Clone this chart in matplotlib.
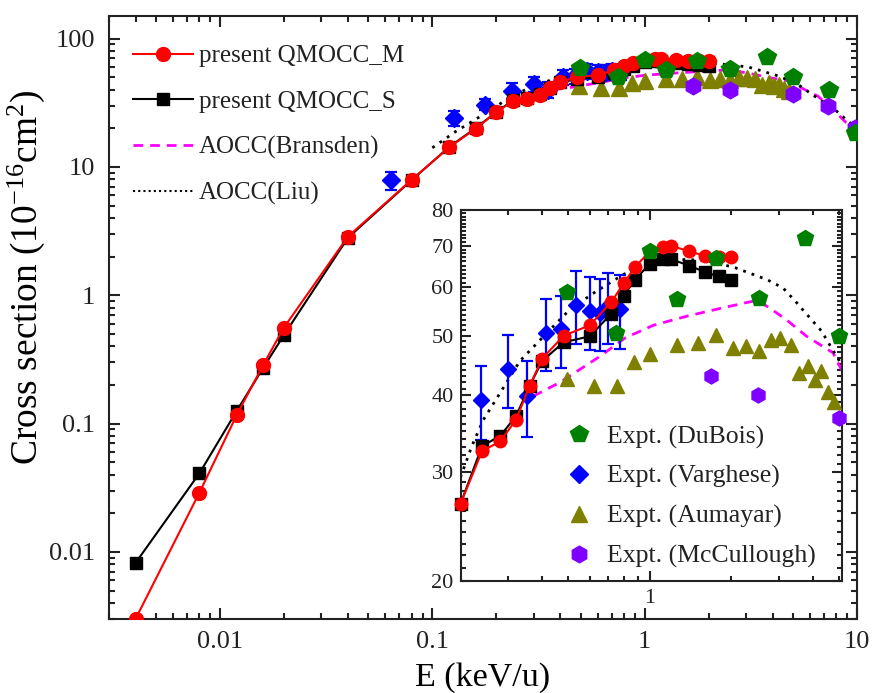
import numpy as np
import matplotlib
matplotlib.use('Agg')
import matplotlib.pyplot as plt
from matplotlib.ticker import LogLocator, NullFormatter, FixedLocator
from matplotlib.lines import Line2D

plt.rcParams['font.family'] = ['Liberation Serif', 'DejaVu Serif']
plt.rcParams['mathtext.fontset'] = 'custom'
plt.rcParams['mathtext.rm'] = 'Liberation Serif'
plt.rcParams['mathtext.it'] = 'Liberation Serif:italic'
plt.rcParams['mathtext.default'] = 'regular'

# ---------------- data ----------------
E_qm = [0.004, 0.008, 0.012, 0.016, 0.02, 0.04, 0.08, 0.12, 0.16, 0.2, 0.24, 0.28,
        0.32, 0.36, 0.4, 0.48, 0.6, 0.72, 0.8, 0.88, 1.0, 1.12, 1.2, 1.4, 1.6, 1.8, 2.0]
sig_M = [0.0030, 0.029, 0.117, 0.288, 0.56, 2.86, 7.96, 14.2, 19.9, 26.7, 32.5, 33.7,
         36.5, 41.5, 45.9, 50.0, 52.0, 56.7, 60.8, 64.6, 68.6, 69.8, 69.9, 68.6, 67.3, 67.0, 67.1]
sig_S = [0.0082, 0.041, 0.126, 0.273, 0.49, 2.80, 7.9, 14.3, 20.1, 26.7, 33.1, 34.4,
         37.0, 41.5, 45.5, 48.8, 49.9, 54.3, 58.1, 61.6, 65.5, 66.5, 66.5, 65.0, 63.4, 62.4, 61.7]

E_bra = [0.371, 0.465, 0.654, 0.81, 1.03, 1.37, 1.76, 2.27, 2.5, 2.81, 3.19, 3.79,
         4.75, 5.68, 6.56, 8.14, 9.07, 10.0]
sig_bra = [39.9, 42.0, 46.3, 49.6, 52.0, 53.8, 55.2, 56.6, 57.1, 55.2, 53.1, 49.9,
           46.9, 40.0, 35.5, 25.6, 21.4, 19.3]

E_liu = [0.1, 0.129, 0.2, 0.22, 0.2425, 0.28, 0.331, 0.416, 0.507, 0.636, 0.8, 1.0,
         1.3, 1.6, 2.06, 2.70, 3.10, 3.48, 3.95, 4.30, 4.68, 5.28, 6.33, 7.86, 9.07, 10.0]
sig_liu = [14.1, 18.9, 29.5, 33.1, 36.5, 40.4, 45.5, 50.5, 55.2, 59.1, 62.9, 65.8,
           66.5, 66.3, 64.5, 61.7, 59.8, 56.6, 53.1, 50.9, 47.8, 43.8, 35.5, 28.0, 22.7, 20.0]

E_dub = [0.494, 0.75, 1.0, 1.254, 1.76, 2.53, 3.75, 5.0, 7.36, 9.8]
sig_dub = [58.8, 50.6, 68.7, 57.3, 66.9, 57.5, 72.1, 50.0, 39.5, 18.4]

E_var = [0.064, 0.127, 0.177, 0.237, 0.30, 0.352, 0.413, 0.468, 0.533, 0.60, 0.654, 0.70, 0.775]
sig_var = [7.9, 24.1, 30.6, 39.3, 44.2, 39.9, 50.6, 51.2, 56.0, 54.8, 54.5, 55.9, 55.2]
err_var = [1.3, 3.4, 3.0, 5.4, 6.0, 5.6, 6.8, 6.9, 7.6, 7.4, 7.3, 7.4, 7.6]

E_aum = [0.493, 0.621, 0.753, 0.873, 1.0, 1.254, 1.50, 1.76, 2.02, 2.27, 2.53, 2.79,
         3.03, 3.31, 3.56, 3.84, 4.06, 4.30, 4.55, 4.78]
sig_aum = [42.5, 41.4, 41.4, 45.3, 46.7, 48.3, 48.6, 50.2, 47.8, 48.2, 47.2, 49.2,
           49.6, 48.3, 43.5, 44.7, 42.4, 43.8, 40.6, 39.0]

E_mcc = [1.68, 2.51, 5.0, 7.3, 9.8]
sig_mcc = [43.0, 40.1, 36.8, 29.7, 20.1]

# ---------------- styles ----------------
RED = '#FF0000'
MAG = '#FF00FF'
GRN = '#008000'
BLU = '#0000FF'
OLV = '#808000'
PUR = '#8000FF'

fig = plt.figure(figsize=(8.72, 6.93), dpi=100)
W, H = 872.0, 693.0
ax = fig.add_axes([109 / W, 1 - 619 / H, (857 - 109) / W, (619 - 16) / H])


def style_axis(a, lw=1.5, lab=19):
    for s in a.spines.values():
        s.set_linewidth(lw)
        s.set_color('#222222')
    a.tick_params(which='both', direction='in', top=True, right=True,
                  width=lw, colors='#222222', labelcolor='#222222')
    a.tick_params(which='major', length=8, labelsize=lab)
    a.tick_params(which='minor', length=4.5)


def draw_all(a, inset=False):
    if inset:
        lo, hi = 0.199, 5.2
        def sel(E, *ys):
            idx = [i for i, e in enumerate(E) if lo <= e <= hi]
            return [[E[i] for i in idx]] + [[y[i] for i in idx] for y in ys]
    else:
        def sel(E, *ys):
            return [list(E)] + [list(y) for y in ys]
    ms_scale = 0.9 if inset else 1.0
    clip = not inset
    # theory curves
    a.plot(E_bra, sig_bra, color=MAG, ls=(0, (3.5, 2.5)), lw=2.0, zorder=2)
    a.plot(E_liu, sig_liu, color='black', ls=(0, (1, 2.2)), lw=2.0, zorder=2)
    # experiments
    x, y = sel(E_aum, sig_aum)
    a.plot(x, y, ls='none', marker='^', ms=11 * ms_scale, color=OLV, mec=OLV, zorder=3, clip_on=clip)
    x, y = sel(E_mcc, sig_mcc)
    a.plot(x, y, ls='none', marker='h', ms=12 * ms_scale, color=PUR, mec=PUR, zorder=3, clip_on=clip)
    x, y, e = sel(E_var, sig_var, err_var)
    a.errorbar(x, y, yerr=e, fmt='D', ms=9 * ms_scale, color=BLU, mec=BLU, ecolor=BLU,
               elinewidth=1.6, capsize=4, capthick=1.6, zorder=3, clip_on=clip)
    # present results
    x, yM, yS = sel(E_qm, sig_M, sig_S)
    a.plot(x, yS, color='black', lw=1.5, marker='s', ms=9 * ms_scale, mec='black', zorder=4, clip_on=clip)
    a.plot(x, yM, color=RED, lw=1.5, marker='o', ms=10 * ms_scale, mec=RED, zorder=5, clip_on=clip)
    x, y = sel(E_dub, sig_dub)
    a.plot(x, y, ls='none', marker='p', ms=13 * ms_scale, color=GRN, mec=GRN, zorder=6, clip_on=clip)


# ---------------- main axes ----------------
ax.set_xscale('log')
ax.set_yscale('log')
draw_all(ax)
ax.set_xlim(0.003, 10)
ax.set_ylim(0.003, 150)
style_axis(ax)
ax.set_xticks([0.01, 0.1, 1, 10])
ax.set_xticklabels(['0.01', '0.1', '1', '10'])
ax.set_yticks([0.01, 0.1, 1, 10, 100])
ax.set_yticklabels(['0.01', '0.1', '1', '10', '100'])
ax.xaxis.set_minor_locator(LogLocator(base=10, subs=np.arange(2, 10), numticks=20))
ax.yaxis.set_minor_locator(LogLocator(base=10, subs=np.arange(2, 10), numticks=20))
ax.xaxis.set_minor_formatter(NullFormatter())
ax.yaxis.set_minor_formatter(NullFormatter())
ax.tick_params(axis='x', which='major', pad=9)
ax.tick_params(axis='y', which='major', pad=10)
ax.set_xlabel('E (keV/u)', fontsize=24.5)
ax.xaxis.set_label_coords(0.5, (619 - 693) / 603.0)
ax.xaxis.label.set_va('bottom')
ax.set_ylabel('Cross section (10$^{-16}$cm$^{2}$)', fontsize=27)
ax.yaxis.set_label_coords(-0.083, 0.567)

h1 = Line2D([], [], color=RED, lw=1.5, marker='o', ms=10, mec=RED)
h2 = Line2D([], [], color='black', lw=1.5, marker='s', ms=9)
h3 = Line2D([], [], color=MAG, lw=2.0, ls=(0, (3.5, 2.5)))
h4 = Line2D([], [], color='black', lw=1.5, ls=(0, (1, 1.5)))
leg = ax.legend([h1, h2, h3, h4],
                ['present QMOCC_M', 'present QMOCC_S', 'AOCC(Bransden)', 'AOCC(Liu)'],
                loc='upper left', bbox_to_anchor=(-0.0067, 1.0), frameon=False, fontsize=18,
                handlelength=2.4, handletextpad=0.25, labelspacing=0.92, numpoints=1,
                borderaxespad=0.75)
for t in leg.get_texts():
    t.set_color('#222222')

# ---------------- inset ----------------
axi = fig.add_axes([460.6 / W, 1 - 581 / H, (842 - 460.6) / W, (581 - 210) / H])
axi.set_xscale('log')
axi.set_yscale('log')
draw_all(axi, inset=True)
axi.set_xlim(0.2, 5.12)
axi.set_ylim(20, 80)
style_axis(axi, lw=1.5, lab=16)
axi.tick_params(which='major', length=7)
axi.tick_params(which='minor', length=3.5)
axi.xaxis.set_major_locator(FixedLocator([1]))
axi.set_xticklabels(['1'])
axi.xaxis.set_minor_locator(FixedLocator([0.2, 0.3, 0.4, 0.5, 0.6, 0.7, 0.8, 0.9, 2, 3, 4, 5]))
axi.xaxis.set_minor_formatter(NullFormatter())
axi.yaxis.set_major_locator(FixedLocator([20, 30, 40, 50, 60, 70, 80]))
axi.set_yticklabels(['20', '30', '40', '50', '60', '70', '80'])
axi.yaxis.set_minor_locator(FixedLocator([v for v in range(21, 80) if v % 10 != 0]))
axi.yaxis.set_minor_formatter(NullFormatter())
axi.tick_params(axis='x', which='major', pad=6)
axi.tick_params(axis='y', which='major', pad=5)

g1 = Line2D([], [], ls='none', marker='p', ms=13, color=GRN)
g2 = Line2D([], [], ls='none', marker='D', ms=9, color=BLU)
g3 = Line2D([], [], ls='none', marker='^', ms=11, color=OLV)
g4 = Line2D([], [], ls='none', marker='h', ms=12, color=PUR)
leg2 = axi.legend([g1, g2, g3, g4],
                  ['Expt. (DuBois)', 'Expt. (Varghese)', 'Expt. (Aumayar)', 'Expt. (McCullough)'],
                  loc='lower right', bbox_to_anchor=(1.0 + 5 / 381.4, -18 / 371.0),
                  frameon=False, fontsize=18.5, handlelength=1.2,
                  handletextpad=0.5, labelspacing=0.64, numpoints=1,
                  borderaxespad=0.8)
for t in leg2.get_texts():
    t.set_color('#222222')

fig.savefig('out.png', dpi=100)
